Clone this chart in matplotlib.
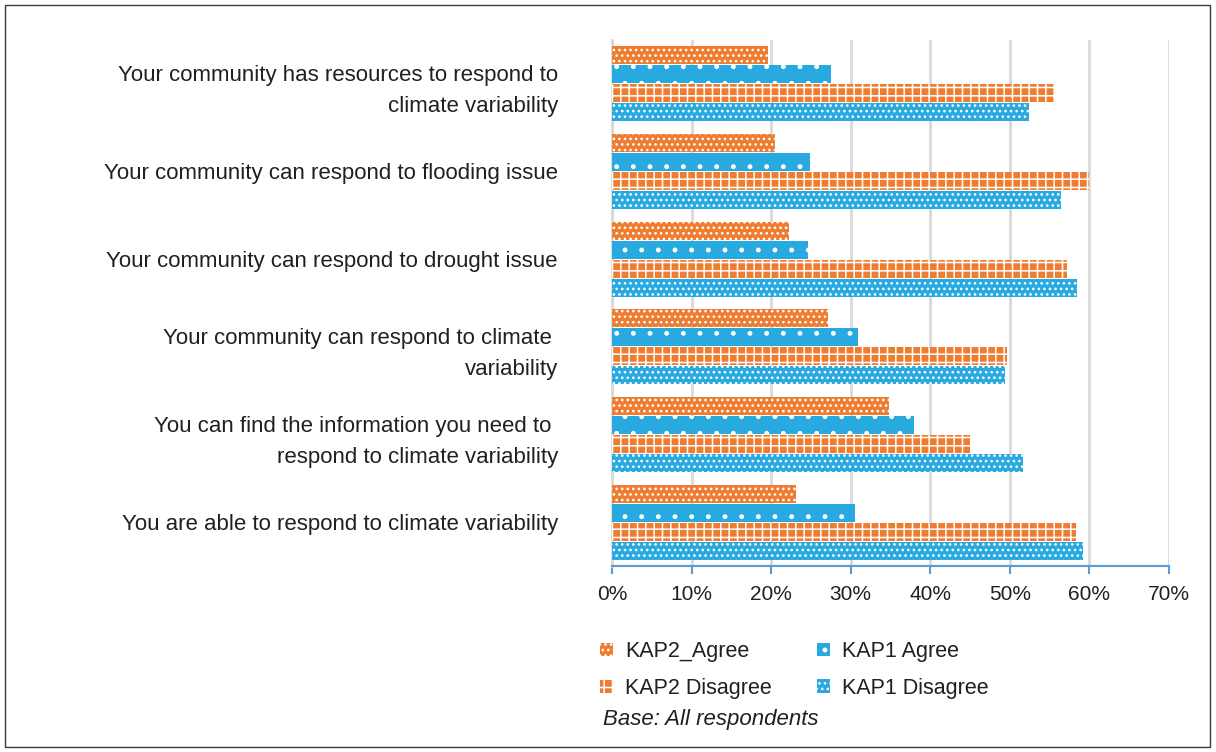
import numpy as np
import matplotlib
matplotlib.use("Agg")
import matplotlib.pyplot as plt
from matplotlib.patches import Rectangle

plt.rcParams['font.family'] = ['Liberation Sans', 'DejaVu Sans']
plt.rcParams['hatch.linewidth'] = 1.1

# data (top to bottom)
statements = [
    "Your community has resources to respond to\nclimate variability",
    "Your community can respond to flooding issue",
    "Your community can respond to drought issue",
    "Your community can respond to climate \nvariability",
    "You can find the information you need to \nrespond to climate variability",
    "You are able to respond to climate variability",
]
kap2_agree = [19.6, 20.5, 22.2, 27.1, 34.8, 23.1]
kap1_agree = [27.5, 24.9, 24.6, 30.9, 37.9, 30.5]
kap2_disagree = [55.5, 60.0, 57.2, 49.7, 45.0, 58.3]
kap1_disagree = [52.4, 56.4, 58.4, 49.4, 51.6, 59.2]
series_names = ["KAP2_Agree", "KAP1 Agree", "KAP2 Disagree", "KAP1 Disagree"]
xticks = [0, 10, 20, 30, 40, 50, 60, 70]

orange = '#EE7D31'
blue = '#28A9E0'
text_col = '#231F20'

fig = plt.figure(figsize=(12.16, 7.52), dpi=100)
ax = fig.add_axes([612/1216, 1-566/752, 557/1216, 526/752])

y = np.arange(len(statements))
h = 0.205
step = 0.216
styles = [
    (kap2_agree, orange, '...'),
    (kap1_agree, blue, '.'),
    (kap2_disagree, orange, '++'),
    (kap1_disagree, blue, '...'),
]
handles = []
for k, (vals, col, hatch) in enumerate(styles):
    b = ax.barh(y + (k - 1.5) * step, vals, height=h, color=col,
                edgecolor='white', linewidth=0, hatch=hatch,
                label=series_names[k], zorder=3)
    handles.append(b)

ax.set_xlim(0, 70)
ax.set_ylim(len(statements) - 0.5, -0.5)
ax.set_xticks(xticks)
ax.set_xticklabels([f"{t}%" for t in xticks], fontsize=15, color=text_col)
ax.set_yticks(y)
ax.set_yticklabels(statements, fontsize=16, color=text_col, ha='right',
                   multialignment='right', linespacing=1.6)
ax.tick_params(axis='y', length=0, pad=39)
ax.tick_params(axis='x', length=6, width=1.5, color='#5B9BD5', pad=8,
               direction='out')
ax.grid(axis='x', color='#D9D9D9', linewidth=2, zorder=0)
for s in ['top', 'right']:
    ax.spines[s].set_visible(False)
ax.spines['left'].set_color('#D9D9D9')
ax.spines['left'].set_linewidth(2)
ax.spines['bottom'].set_color('#5B9BD5')
ax.spines['bottom'].set_linewidth(1.5)

# legend fills row by row in the reference
order = [0, 2, 1, 3]
leg = fig.legend(handles=[handles[i] for i in order], loc='upper left',
                 bbox_to_anchor=(585/1216, 1-626/752), ncol=2,
                 frameon=False, fontsize=15.5, handlelength=0.6,
                 handleheight=0.6, handletextpad=0.55, columnspacing=2.1,
                 labelspacing=0.72, borderaxespad=0.3)
for t in leg.get_texts():
    t.set_color(text_col)

fig.text(603/1216, 1-720/752, "Base: All respondents", fontsize=16,
         style='italic', color=text_col, va='center')

fig.patches.append(Rectangle((5/1216, 5/752), 1205/1216, 742/752,
                             transform=fig.transFigure, fill=False,
                             edgecolor='#3A3A3A', linewidth=1))

fig.savefig('out.png', dpi=100)
